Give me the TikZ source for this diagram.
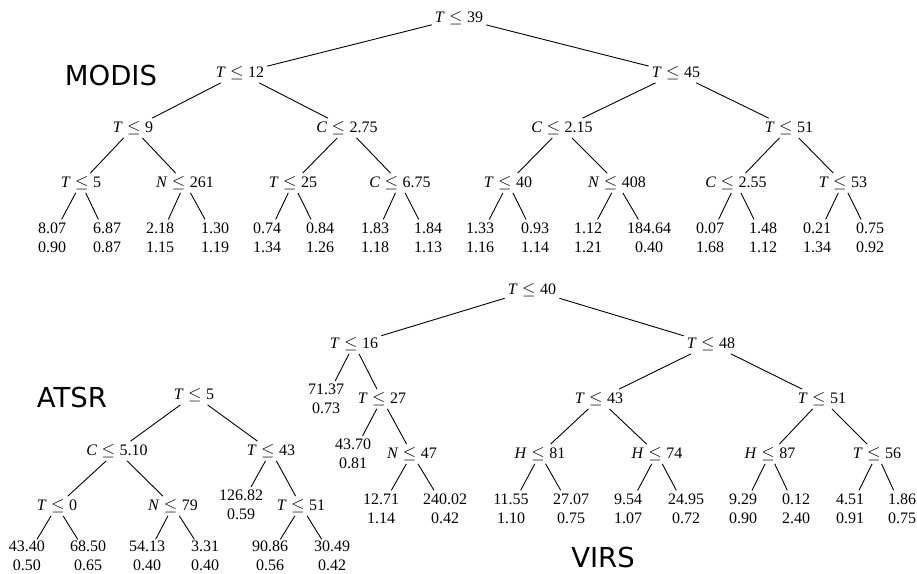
\documentclass[tikz,border=0pt]{standalone}
\usepackage{fontspec}
\setmainfont{Liberation Serif}
\newfontfamily\labfont{DejaVu Sans}
\newcommand\splitlab[2]{\textit{#1}\hspace{0.28em}$\leq$\hspace{0.28em}#2}
\begin{document}
\begin{tikzpicture}[x=1pt,y=-1pt,
  every node/.style={font=\fontsize{16}{19}\selectfont},
  split/.style={inner sep=3pt},
  leaf/.style={inner sep=3pt,align=center},
  lowleaf/.style={leaf,inner ysep=1.5pt},
  title/.style={font=\labfont\fontsize{27.5}{30}\selectfont,inner sep=0pt},
  edge/.style={draw,line width=0.9pt}]
\useasboundingbox (0,0) rectangle (917,573);
% ---------- MODIS ----------
\node[title] (tm) at (111,75) {MODIS};
\node[split] (m0) at (459,18) {\splitlab{T}{39}};
\node[split] (m1) at (240,73) {\splitlab{T}{12}};
\node[split] (m2) at (676,73) {\splitlab{T}{45}};
\node[split] (m3) at (133,128) {\splitlab{T}{9}};
\node[split] (m4) at (347,128) {\splitlab{C}{2.75}};
\node[split] (m5) at (562,128) {\splitlab{C}{2.15}};
\node[split] (m6) at (789,128) {\splitlab{T}{51}};
\node[split] (m7) at (81,183) {\splitlab{T}{5}};
\node[split] (m8) at (185,183) {\splitlab{N}{261}};
\node[split] (m9) at (293,183) {\splitlab{T}{25}};
\node[split] (m10) at (400,183) {\splitlab{C}{6.75}};
\node[split] (m11) at (508,183) {\splitlab{T}{40}};
\node[split] (m12) at (617,183) {\splitlab{N}{408}};
\node[split] (m13) at (736,183) {\splitlab{C}{2.55}};
\node[split] (m14) at (843,183) {\splitlab{T}{53}};
\node[leaf] (l1) at (52,237.5) {8.07\\0.90};
\node[leaf] (l2) at (107,237.5) {6.87\\0.87};
\node[leaf] (l3) at (160,237.5) {2.18\\1.15};
\node[leaf] (l4) at (215,237.5) {1.30\\1.19};
\node[leaf] (l5) at (267,237.5) {0.74\\1.34};
\node[leaf] (l6) at (320,237.5) {0.84\\1.26};
\node[leaf] (l7) at (375,237.5) {1.83\\1.18};
\node[leaf] (l8) at (428,237.5) {1.84\\1.13};
\node[leaf] (l9) at (480,237.5) {1.33\\1.16};
\node[leaf] (l10) at (535,237.5) {0.93\\1.14};
\node[leaf] (l11) at (588,237.5) {1.12\\1.21};
\node[leaf] (l12) at (649,237.5) {184.64\\0.40};
\node[leaf] (l13) at (710,237.5) {0.07\\1.68};
\node[leaf] (l14) at (763,237.5) {1.48\\1.12};
\node[leaf] (l15) at (817,237.5) {0.21\\1.34};
\node[leaf] (l16) at (870,237.5) {0.75\\0.92};
\path[edge] (m0)--(m1) (m0)--(m2)
  (m1)--(m3) (m1)--(m4) (m2)--(m5) (m2)--(m6)
  (m3)--(m7) (m3)--(m8) (m4)--(m9) (m4)--(m10)
  (m5)--(m11) (m5)--(m12) (m6)--(m13) (m6)--(m14)
  (m7)--(l1) (m7)--(l2) (m8)--(l3) (m8)--(l4)
  (m9)--(l5) (m9)--(l6) (m10)--(l7) (m10)--(l8)
  (m11)--(l9) (m11)--(l10) (m12)--(l11) (m12)--(l12)
  (m13)--(l13) (m13)--(l14) (m14)--(l15) (m14)--(l16);
% ---------- ATSR ----------
\node[title] (ta) at (72,397) {ATSR};
\node[split] (a0) at (194,395) {\splitlab{T}{5}};
\node[split] (a1) at (117,451) {\splitlab{C}{5.10}};
\node[split] (a2) at (271,451) {\splitlab{T}{43}};
\node[split] (a3) at (57,506) {\splitlab{T}{0}};
\node[split] (a4) at (173,506) {\splitlab{N}{79}};
\node[leaf] (a5) at (241,505) {126.82\\0.59};
\node[split] (a6) at (301,506) {\splitlab{T}{51}};
\node[lowleaf] (b1) at (27,556) {43.40\\0.50};
\node[lowleaf] (b2) at (88,556) {68.50\\0.65};
\node[lowleaf] (b3) at (147,556) {54.13\\0.40};
\node[lowleaf] (b4) at (205,556) {3.31\\0.40};
\node[lowleaf] (b5) at (270,556) {90.86\\0.56};
\node[lowleaf] (b6) at (332,556) {30.49\\0.42};
\path[edge] (a0)--(a1) (a0)--(a2) (a1)--(a3) (a1)--(a4)
  (a2)--(a5) (a2)--(a6)
  (a3)--(b1) (a3)--(b2) (a4)--(b3) (a4)--(b4) (a6)--(b5) (a6)--(b6);
% ---------- VIRS ----------
\node[title] (tv) at (603,557) {VIRS};
\node[split] (v0) at (532,290) {\splitlab{T}{40}};
\node[split] (v1) at (354,344) {\splitlab{T}{16}};
\node[split] (v2) at (711,344) {\splitlab{T}{48}};
\node[leaf] (v3) at (326,399) {71.37\\0.73};
\node[split] (v4) at (382,399) {\splitlab{T}{27}};
\node[leaf] (v5) at (353,454) {43.70\\0.81};
\node[split] (v6) at (412,454) {\splitlab{N}{47}};
\node[leaf] (v7) at (381,508.5) {12.71\\1.14};
\node[leaf] (v8) at (445,508.5) {240.02\\0.42};
\node[split] (v9) at (599,399) {\splitlab{T}{43}};
\node[split] (v10) at (822,399) {\splitlab{T}{51}};
\node[split] (v11) at (540,454) {\splitlab{H}{81}};
\node[split] (v12) at (657,454) {\splitlab{H}{74}};
\node[split] (v13) at (770,454) {\splitlab{H}{87}};
\node[split] (v14) at (877,454) {\splitlab{T}{56}};
\node[leaf] (w1) at (511,508.5) {11.55\\1.10};
\node[leaf] (w2) at (571,508.5) {27.07\\0.75};
\node[leaf] (w3) at (628,508.5) {9.54\\1.07};
\node[leaf] (w4) at (686,508.5) {24.95\\0.72};
\node[leaf] (w5) at (743,508.5) {9.29\\0.90};
\node[leaf] (w6) at (796,508.5) {0.12\\2.40};
\node[leaf] (w7) at (850,508.5) {4.51\\0.91};
\node[leaf] (w8) at (902,508.5) {1.86\\0.75};
\path[edge] (v0)--(v1) (v0)--(v2) (v1)--(v3) (v1)--(v4)
  (v4)--(v5) (v4)--(v6) (v6)--(v7) (v6)--(v8)
  (v2)--(v9) (v2)--(v10) (v9)--(v11) (v9)--(v12)
  (v10)--(v13) (v10)--(v14)
  (v11)--(w1) (v11)--(w2) (v12)--(w3) (v12)--(w4)
  (v13)--(w5) (v13)--(w6) (v14)--(w7) (v14)--(w8);
\end{tikzpicture}
\end{document}
